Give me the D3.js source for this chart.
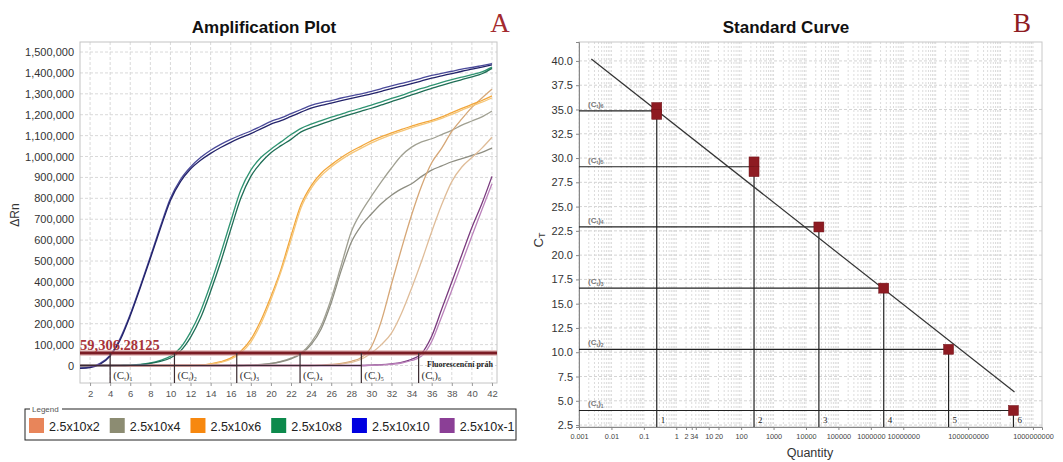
<!DOCTYPE html>
<html>
<head>
<meta charset="utf-8">
<script src="https://cdn.jsdelivr.net/npm/d3@7"></script>
<style>
  body { margin: 0; background: #fff; }
  svg { display: block; font-family: "Liberation Sans", Arial, sans-serif; }
</style>
</head>
<body>
<svg id="chart" width="1063" height="462"></svg>
<script>
// ---- data: amplification plot (values in thousands of ΔRn) ----
const cycles = [1,2,3,4,5,6,7,8,9,10,11,12,13,14,15,16,17,18,19,20,21,22,23,24,25,26,27,28,29,30,31,32,33,34,35,36,37,38,39,40,41,42];
const cycleTicks = [2,4,6,8,10,12,14,16,18,20,22,24,26,28,30,32,34,36,38,40,42];
const deltaRnTicks = [0,100,200,300,400,500,600,700,800,900,1000,1100,1200,1300,1400,1500];

const blue1 = [-12,-8,10,50,130,245,380,520,665,800,890,950,995,1030,1058,1082,1103,1122,1145,1168,1185,1205,1225,1245,1258,1268,1280,1290,1300,1312,1325,1338,1350,1362,1375,1388,1398,1408,1418,1426,1435,1444];
const blue2 = [-14,-10,6,45,122,238,372,512,655,790,880,940,982,1015,1043,1068,1090,1110,1132,1155,1172,1192,1212,1232,1245,1256,1267,1278,1289,1300,1312,1325,1337,1349,1362,1375,1386,1397,1408,1418,1428,1438];
const green1 = [0,0,0,0,1,2,5,12,25,44,85,160,260,390,535,690,840,935,995,1035,1070,1105,1135,1155,1172,1188,1203,1218,1232,1246,1262,1278,1293,1310,1326,1340,1355,1368,1380,1392,1405,1428];
const green2 = [0,0,0,0,0,1,4,10,20,36,70,135,228,355,495,650,800,905,970,1018,1052,1082,1118,1138,1155,1172,1188,1203,1217,1231,1247,1263,1278,1295,1311,1326,1341,1355,1368,1381,1396,1422];
const orange1 = [0,0,0,0,0,0,0,0,0,0,0,0,2,8,18,35,68,125,215,330,460,620,770,860,920,960,995,1025,1050,1075,1095,1113,1130,1145,1160,1173,1190,1210,1230,1250,1268,1290];
const orange2 = [0,0,0,0,0,0,0,0,0,0,0,0,1,6,15,30,60,112,200,315,448,600,755,848,908,950,985,1015,1040,1065,1086,1105,1122,1138,1153,1167,1183,1202,1222,1242,1260,1280];
const gray1 = [0,0,0,0,0,0,0,0,0,0,0,0,0,0,0,0,0,2,5,10,20,35,60,110,190,320,480,640,735,810,880,945,1005,1045,1070,1085,1105,1125,1150,1170,1190,1218];
const gray2 = [0,0,0,0,0,0,0,0,0,0,0,0,0,0,0,0,0,2,4,9,18,32,55,100,175,300,455,590,670,725,775,815,845,870,905,935,955,975,990,1005,1020,1040];
const salmon1 = [0,0,0,0,0,0,0,0,0,0,0,0,0,0,0,0,0,0,0,0,0,0,0,0,2,5,10,20,38,90,215,390,560,720,860,970,1040,1120,1180,1235,1280,1322];
const salmon2 = [0,0,0,0,0,0,0,0,0,0,0,0,0,0,0,0,0,0,0,0,0,0,0,0,1,3,7,15,30,60,100,155,250,370,500,640,770,880,950,995,1040,1092];
const purple1 = [0,0,0,0,0,0,0,0,0,0,0,0,0,0,0,0,0,0,0,0,0,0,0,0,0,0,0,0,0,2,4,8,15,30,58,140,270,400,530,660,775,905];
const purple2 = [0,0,0,0,0,0,0,0,0,0,0,0,0,0,0,0,0,0,0,0,0,0,0,0,0,0,0,0,0,1,3,6,12,24,45,115,235,360,490,620,745,870];

const threshold = 59306.28125;
const ctCycles = [4.0, 10.4, 16.6, 22.9, 29.0, 34.7];

const legendNames = ["2.5x10x2", "2.5x10x4", "2.5x10x6", "2.5x10x8", "2.5x10x10", "2.5x10x-1"];
const legendColors = ["#e8855a", "#8c8c72", "#f7880f", "#0d8a4c", "#0000e0", "#8b3f96"];

// ---- data: standard curve ----
const stdQuantity = [0.25, 0.25, 250, 250, 25000, 2500000, 250000000, 25000000000];
const stdCt = [35.2, 34.5, 29.6, 28.6, 22.9, 16.6, 10.3, 4.0];
const guideQuantity = [0.25, 250, 25000, 2500000, 250000000, 25000000000];
const guideCt = [34.85, 29.1, 22.9, 16.6, 10.3, 4.0];
const guideCtLabels = ["6", "5", "4", "3", "2", "1"];
const guideNumbers = ["1", "2", "3", "4", "5", "6"];
const fitQuantity = [0.0024, 27000000000];
const fitCt = [40.2, 5.9];
const ctTicks = [2.5,5,7.5,10,12.5,15,17.5,20,22.5,25,27.5,30,32.5,35,37.5,40];
const quantityTicks = [0.001,0.01,0.1,1,2,3,4,10,20,100,1000,10000,100000,1000000,10000000,1000000000,100000000000];
const quantityTickLabels = ["0.001","0.01","0.1","1","2","3","4","10","20","100","1000","10000","100000","1000000","10000000","1000000000","1000000000"];

const svg = d3.select("#chart");
svg.append("rect").attr("width", 1063).attr("height", 462).attr("fill", "#fff");

// ================= A: Amplification Plot =================
const aBox = { left: 80, right: 497, top: 42, bottom: 383 };
const xA = d3.scaleLinear().domain([1, 42.5]).range([aBox.left, aBox.right]);
const yA = d3.scaleLinear().domain([-83.7, 1548]).range([aBox.bottom, aBox.top]);

const gA = svg.append("g");

svg.append("defs").append("clipPath").attr("id", "clipA")
  .append("rect")
  .attr("x", aBox.left).attr("y", aBox.top)
  .attr("width", aBox.right - aBox.left).attr("height", aBox.bottom - aBox.top);

// grid
gA.append("g").selectAll("line").data(cycleTicks).join("line")
  .attr("x1", d => xA(d)).attr("x2", d => xA(d))
  .attr("y1", aBox.top).attr("y2", aBox.bottom)
  .attr("stroke", "#d9d9d9").attr("stroke-dasharray", "3,2");
gA.append("g").selectAll("line").data(deltaRnTicks).join("line")
  .attr("x1", aBox.left).attr("x2", aBox.right)
  .attr("y1", d => yA(d)).attr("y2", d => yA(d))
  .attr("stroke", "#d9d9d9").attr("stroke-dasharray", "3,2");

gA.append("rect")
  .attr("x", aBox.left).attr("y", aBox.top)
  .attr("width", aBox.right - aBox.left).attr("height", aBox.bottom - aBox.top)
  .attr("fill", "none").attr("stroke", "#c4c4c4");

// axes
const yAxisA = d3.axisLeft(yA).tickValues(deltaRnTicks)
  .tickFormat(d => d3.format(",")(d * 1000)).tickSize(0).tickPadding(6);
gA.append("g").attr("transform", `translate(${aBox.left},0)`).call(yAxisA)
  .call(g => g.select(".domain").remove())
  .call(g => g.selectAll("text").attr("font-size", 11).attr("fill", "#333")
    .attr("font-family", "'Liberation Sans', Arial, sans-serif"));

const xAxisA = d3.axisBottom(xA).tickValues(cycleTicks).tickSize(3).tickPadding(4);
gA.append("g").attr("transform", `translate(0,${aBox.bottom})`).call(xAxisA)
  .call(g => g.select(".domain").remove())
  .call(g => g.selectAll("line").attr("stroke", "#999"))
  .call(g => g.selectAll("text").attr("font-size", 9.5).attr("fill", "#555")
    .attr("font-family", "'Liberation Sans', Arial, sans-serif"));

// curves
const curveSeries = [
  { values: gray1, color: "#a0a092" },
  { values: gray2, color: "#8e8e82" },
  { values: salmon1, color: "#d6a777" },
  { values: salmon2, color: "#dfbc98" },
  { values: orange1, color: "#f2a63a" },
  { values: orange2, color: "#f6c678" },
  { values: green1, color: "#2f9472" },
  { values: green2, color: "#1f6e56" },
  { values: blue1, color: "#4a4a9a" },
  { values: blue2, color: "#23236a" },
  { values: purple1, color: "#7a3a7e" },
  { values: purple2, color: "#bb82bb" }
];

const line = d3.line()
  .x((d, i) => xA(cycles[i]))
  .y(d => yA(d))
  .curve(d3.curveMonotoneX);

gA.append("g").attr("clip-path", "url(#clipA)")
  .selectAll("path").data(curveSeries).join("path")
  .attr("d", d => line(d.values))
  .attr("fill", "none")
  .attr("stroke", d => d.color)
  .attr("stroke-width", 1.3);

// baseline drawn over the flat parts
gA.append("line")
  .attr("x1", xA(1)).attr("x2", xA(ctCycles[4]))
  .attr("y1", yA(0)).attr("y2", yA(0))
  .attr("stroke", "#3b2a35").attr("stroke-width", 1);

// threshold
const yT = yA(threshold / 1000);
gA.append("line")
  .attr("x1", aBox.left).attr("x2", aBox.right).attr("y1", yT).attr("y2", yT)
  .attr("stroke", "#d9a0a0").attr("stroke-width", 6).attr("opacity", 0.6);
gA.append("line")
  .attr("x1", aBox.left).attr("x2", aBox.right).attr("y1", yT).attr("y2", yT)
  .attr("stroke", "#7b1c24").attr("stroke-width", 3);
gA.append("text")
  .attr("x", aBox.left).attr("y", yT - 3)
  .attr("font-family", "'Liberation Serif', 'Times New Roman', serif")
  .attr("font-size", 14.5).attr("font-weight", "bold")
  .attr("fill", "#a8333a")
  .text(d3.format(",")(threshold));

// Ct markers
const ctG = gA.append("g").selectAll("g").data(ctCycles).join("g");
ctG.append("line")
  .attr("x1", d => xA(d)).attr("x2", d => xA(d))
  .attr("y1", yT).attr("y2", aBox.bottom)
  .attr("stroke", "#3a2b30").attr("stroke-width", 1.2);
const ctText = ctG.append("text")
  .attr("x", d => xA(d) + 3).attr("y", aBox.bottom - 4)
  .attr("font-family", "'Liberation Serif', 'Times New Roman', serif")
  .attr("font-size", 11).attr("fill", "#333");
ctText.append("tspan").text("(C");
ctText.append("tspan").attr("font-size", 6).attr("dy", 2).text("t");
ctText.append("tspan").attr("dy", -2).text(")");
ctText.append("tspan").attr("font-size", 6).attr("dy", 2).text((d, i) => i + 1);

gA.append("text")
  .attr("x", 427).attr("y", yA(0) + 1)
  .attr("font-family", "'Liberation Serif', 'Times New Roman', serif")
  .attr("font-size", 8).attr("font-weight", "bold").attr("fill", "#222")
  .text("Fluorescenční práh");

// titles
svg.append("text").attr("x", 264).attr("y", 33).attr("text-anchor", "middle")
  .attr("font-size", 17).attr("font-weight", "bold").attr("fill", "#111")
  .text("Amplification Plot");
svg.append("text").attr("x", 500).attr("y", 32).attr("text-anchor", "middle")
  .attr("font-family", "'Liberation Serif', 'Times New Roman', serif")
  .attr("font-size", 27).attr("fill", "#a32a2f").text("A");
svg.append("text")
  .attr("transform", "translate(19,215) rotate(-90)")
  .attr("text-anchor", "middle").attr("font-size", 12).attr("fill", "#333")
  .text("ΔRn");

// legend
const lg = svg.append("g");
lg.append("rect").attr("x", 25).attr("y", 409).attr("width", 491).attr("height", 31)
  .attr("fill", "none").attr("stroke", "#222");
lg.append("rect").attr("x", 30).attr("y", 405).attr("width", 32).attr("height", 8).attr("fill", "#fff");
lg.append("text").attr("x", 32).attr("y", 412).attr("font-size", 8).attr("fill", "#555").text("Legend");
const li = lg.selectAll("g.item").data(legendNames).join("g").attr("class", "item");
li.append("rect").attr("width", 15).attr("height", 15)
  .attr("fill", (d, i) => legendColors[i]);
li.append("text").attr("x", 20).attr("y", 13).attr("font-size", 12.5).attr("fill", "#222")
  .text(d => d);
// lay the items out one after the other, like the original legend row
let lx = 29;
li.each(function () {
  const item = d3.select(this);
  item.attr("transform", `translate(${lx},418)`);
  lx += 20 + item.select("text").node().getComputedTextLength() + 10;
});

// ================= B: Standard Curve =================
const bBox = { left: 579, right: 1042, top: 42, bottom: 427 };
const xB = d3.scaleLog().domain([0.001, 1.9e11]).range([bBox.left, bBox.right]);
const yB = d3.scaleLinear().domain([2.3, 41.95]).range([bBox.bottom, bBox.top]);
const gB = svg.append("g");

const minorQ = [];
for (let k = -3; k <= 11; k++) {
  for (let m = 1; m <= 9; m++) minorQ.push(m * Math.pow(10, k));
}
gB.append("g").selectAll("line").data(minorQ.filter(q => q >= 0.001 && q <= 1.9e11)).join("line")
  .attr("x1", d => xB(d)).attr("x2", d => xB(d))
  .attr("y1", bBox.top).attr("y2", bBox.bottom)
  .attr("stroke", "#dcdcdc").attr("stroke-dasharray", "2,2");
gB.append("g").selectAll("line").data(ctTicks).join("line")
  .attr("x1", bBox.left).attr("x2", bBox.right)
  .attr("y1", d => yB(d)).attr("y2", d => yB(d))
  .attr("stroke", "#d4d4d4").attr("stroke-dasharray", "3,2");
gB.append("rect")
  .attr("x", bBox.left).attr("y", bBox.top)
  .attr("width", bBox.right - bBox.left).attr("height", bBox.bottom - bBox.top)
  .attr("fill", "none").attr("stroke", "#c8c8c8");

const yAxisB = d3.axisLeft(yB).tickValues(ctTicks).tickFormat(d3.format(".1f"))
  .tickSize(3).tickPadding(3);
gB.append("g").attr("transform", `translate(${bBox.left},0)`).call(yAxisB)
  .call(g => g.select(".domain").attr("stroke", "#888"))
  .call(g => g.selectAll("line").attr("stroke", "#888"))
  .call(g => g.selectAll("text").attr("font-size", 11).attr("fill", "#333")
    .attr("font-family", "'Liberation Sans', Arial, sans-serif"));

const xAxisB = d3.axisBottom(xB).tickValues(quantityTicks)
  .tickFormat((d, i) => quantityTickLabels[i]).tickSize(3).tickPadding(4);
gB.append("g").attr("transform", `translate(0,${bBox.bottom})`).call(xAxisB)
  .call(g => g.select(".domain").attr("stroke", "#888"))
  .call(g => g.selectAll("line").attr("stroke", "#888"))
  .call(g => g.selectAll("text").attr("font-size", 7.3).attr("fill", "#444")
    .attr("font-family", "'Liberation Sans', Arial, sans-serif"));

// guide lines
const gl = gB.append("g").selectAll("g").data(guideQuantity).join("g");
gl.append("line")
  .attr("x1", bBox.left).attr("x2", d => xB(d))
  .attr("y1", (d, i) => yB(guideCt[i])).attr("y2", (d, i) => yB(guideCt[i]))
  .attr("stroke", "#222").attr("stroke-width", 1.2);
gl.append("line")
  .attr("x1", d => xB(d)).attr("x2", d => xB(d))
  .attr("y1", (d, i) => yB(guideCt[i])).attr("y2", bBox.bottom)
  .attr("stroke", "#222").attr("stroke-width", 1.2);
const glText = gl.append("text")
  .attr("x", bBox.left + 9).attr("y", (d, i) => yB(guideCt[i]) - 4)
  .attr("font-size", 8).attr("font-weight", "bold").attr("fill", "#777");
glText.append("tspan").text("(C");
glText.append("tspan").attr("font-size", 5).attr("dy", 1.5).text("t");
glText.append("tspan").attr("dy", -1.5).text(")");
glText.append("tspan").attr("font-size", 5).attr("dy", 1.5).text((d, i) => guideCtLabels[i]);
gl.append("text")
  .attr("x", d => xB(d) + 4).attr("y", bBox.bottom - 4)
  .attr("font-family", "'Liberation Serif', 'Times New Roman', serif")
  .attr("font-size", 9).attr("fill", "#222")
  .text((d, i) => guideNumbers[i]);

// regression line
gB.append("path")
  .attr("d", d3.line().x((d, i) => xB(fitQuantity[i])).y(d => yB(d))(fitCt))
  .attr("fill", "none").attr("stroke", "#333").attr("stroke-width", 1.2);

// points
gB.append("g").selectAll("rect").data(stdQuantity).join("rect")
  .attr("x", d => xB(d) - 5)
  .attr("y", (d, i) => yB(stdCt[i]) - 5)
  .attr("width", 10).attr("height", 10)
  .attr("fill", "#8e1b22").attr("stroke", "#6e1218").attr("stroke-width", 0.5);

svg.append("text").attr("x", 786).attr("y", 33).attr("text-anchor", "middle")
  .attr("font-size", 17).attr("font-weight", "bold").attr("fill", "#111")
  .text("Standard Curve");
svg.append("text").attr("x", 1022).attr("y", 32).attr("text-anchor", "middle")
  .attr("font-family", "'Liberation Serif', 'Times New Roman', serif")
  .attr("font-size", 27).attr("fill", "#8e1b22").text("B");
const ctLabel = svg.append("text")
  .attr("transform", "translate(543,240) rotate(-90)")
  .attr("text-anchor", "middle").attr("font-size", 13).attr("fill", "#333");
ctLabel.append("tspan").text("C");
ctLabel.append("tspan").attr("font-size", 9).attr("dy", 2).text("T");
svg.append("text").attr("x", 810).attr("y", 457).attr("text-anchor", "middle")
  .attr("font-size", 12.5).attr("fill", "#333").text("Quantity");
</script>
</body>
</html>
